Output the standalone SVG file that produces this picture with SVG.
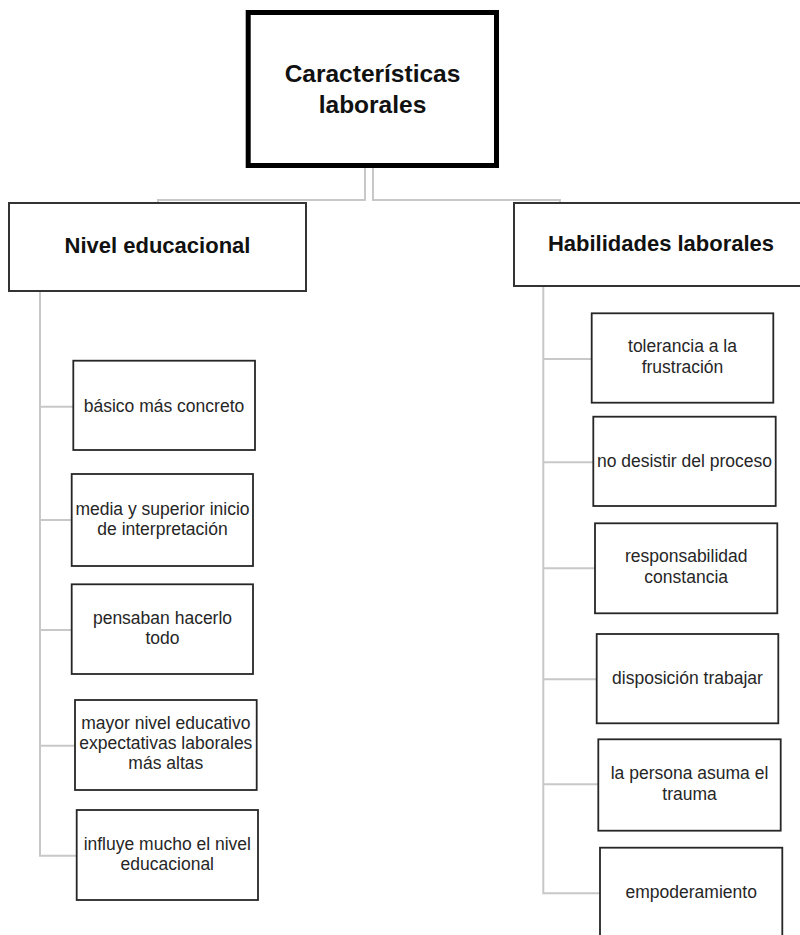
<svg xmlns="http://www.w3.org/2000/svg" width="800" height="935" viewBox="0 0 800 935">
  <style>
    .bg { fill: #ffffff; }
    .link { fill: none; stroke: #c8c8c8; stroke-width: 2; }
    .root { fill: #ffffff; stroke: #000000; stroke-width: 5; }
    .head { fill: #ffffff; stroke: #333333; stroke-width: 2; }
    .leaf { fill: #ffffff; stroke: #262626; stroke-width: 1.8; }
    .t-root { font-family: "Liberation Sans", Arial, sans-serif; font-weight: bold; font-size: 24.5px; fill: #111111; text-anchor: middle; }
    .t-head { font-family: "Liberation Sans", Arial, sans-serif; font-weight: bold; font-size: 22px; fill: #111111; text-anchor: middle; }
    .t-leaf { font-family: "Liberation Sans", Arial, sans-serif; font-size: 17.5px; fill: #262626; text-anchor: middle; }
  </style>
  <rect class="bg" x="0" y="0" width="800" height="935"/>

  <!-- connectors -->
  <g id="connectors">
    <path class="link" d="M365,168 V200 H158 V203"/>
    <path class="link" d="M373,168 V200 H560 V203"/>
    <path class="link" d="M40,291 V855.7 H77"/>
    <path class="link" d="M40,406.7 H74"/>
    <path class="link" d="M40,520 H72"/>
    <path class="link" d="M40,630 H72"/>
    <path class="link" d="M40,745.7 H75"/>
    <path class="link" d="M543.3,286 V893.3 H600"/>
    <path class="link" d="M543.3,359 H592"/>
    <path class="link" d="M543.3,462.3 H593"/>
    <path class="link" d="M543.3,568.3 H595"/>
    <path class="link" d="M543.3,679.3 H597"/>
    <path class="link" d="M543.3,784.3 H598"/>
  </g>

  <!-- root -->
  <g id="root">
    <rect class="root" x="248.2" y="12.5" width="248.3" height="153"/>
    <text class="t-root" x="372.5" y="81.5">Características</text>
    <text class="t-root" x="372.5" y="113">laborales</text>
  </g>

  <!-- first level -->
  <g id="nivel-educacional">
    <rect class="head" x="9" y="203" width="297" height="88"/>
    <text class="t-head" x="157.5" y="252.5">Nivel educacional</text>
  </g>
  <g id="habilidades-laborales">
    <rect class="head" x="514" y="203" width="294" height="83"/>
    <text class="t-head" x="661" y="251">Habilidades laborales</text>
  </g>

  <!-- Nivel educacional children -->
  <g id="basico">
    <rect class="leaf" x="73.3" y="360.7" width="181.7" height="89.3"/>
    <text class="t-leaf" x="164" y="411.5">básico más concreto</text>
  </g>
  <g id="media-superior">
    <rect class="leaf" x="71.7" y="474" width="181.3" height="92"/>
    <text class="t-leaf" x="162.5" y="514.5">media y superior inicio</text>
    <text class="t-leaf" x="162.5" y="535">de interpretación</text>
  </g>
  <g id="pensaban">
    <rect class="leaf" x="71.7" y="584.3" width="181.3" height="89.7"/>
    <text class="t-leaf" x="162.5" y="623.5">pensaban hacerlo</text>
    <text class="t-leaf" x="162.5" y="644">todo</text>
  </g>
  <g id="mayor-nivel">
    <rect class="leaf" x="75" y="700" width="181.7" height="90"/>
    <text class="t-leaf" x="165.8" y="728.5">mayor nivel educativo</text>
    <text class="t-leaf" x="165.8" y="748.5">expectativas laborales</text>
    <text class="t-leaf" x="165.8" y="768.5">más altas</text>
  </g>
  <g id="influye">
    <rect class="leaf" x="76.7" y="810" width="181.3" height="90"/>
    <text class="t-leaf" x="167.3" y="849.5">influye mucho el nivel</text>
    <text class="t-leaf" x="167.3" y="870">educacional</text>
  </g>

  <!-- Habilidades laborales children -->
  <g id="tolerancia">
    <rect class="leaf" x="591.7" y="313.3" width="181.6" height="89.4"/>
    <text class="t-leaf" x="682.5" y="352">tolerancia a la</text>
    <text class="t-leaf" x="682.5" y="373">frustración</text>
  </g>
  <g id="no-desistir">
    <rect class="leaf" x="593.3" y="416.7" width="182.4" height="89.3"/>
    <text class="t-leaf" x="684.5" y="467">no desistir del proceso</text>
  </g>
  <g id="responsabilidad">
    <rect class="leaf" x="595" y="523.3" width="182.3" height="90"/>
    <text class="t-leaf" x="686.2" y="562">responsabilidad</text>
    <text class="t-leaf" x="686.2" y="583">constancia</text>
  </g>
  <g id="disposicion">
    <rect class="leaf" x="596.7" y="634" width="181.6" height="89.3"/>
    <text class="t-leaf" x="687.5" y="684">disposición trabajar</text>
  </g>
  <g id="persona-trauma">
    <rect class="leaf" x="598.3" y="739.3" width="182.4" height="91.4"/>
    <text class="t-leaf" x="689.5" y="778.5">la persona asuma el</text>
    <text class="t-leaf" x="689.5" y="799.5">trauma</text>
  </g>
  <g id="empoderamiento">
    <rect class="leaf" x="600" y="847.7" width="182.3" height="100"/>
    <text class="t-leaf" x="691.2" y="898">empoderamiento</text>
  </g>
</svg>
